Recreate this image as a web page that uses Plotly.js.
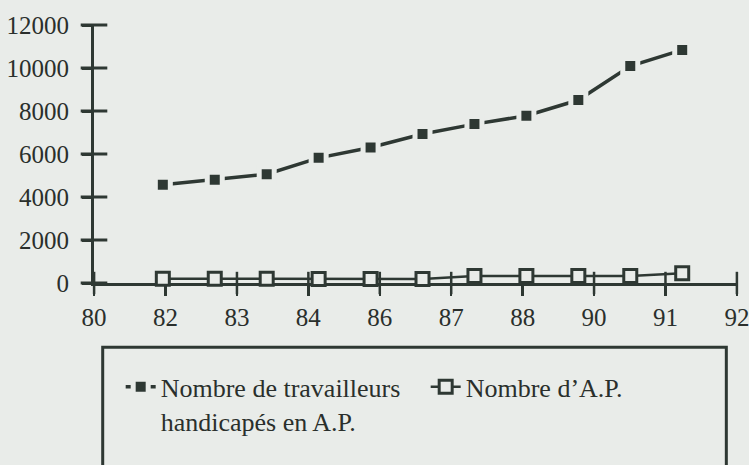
<!DOCTYPE html>
<html>
<head>
<meta charset="utf-8">
<script src="https://cdn.plot.ly/plotly-3.0.1.min.js"></script>
<style>
  html, body { margin: 0; padding: 0; background: #e9ece9; }
  #chart { width: 749px; height: 465px; }
</style>
</head>
<body>
<div id="chart"></div>
<script>
// ---- data ----
const xTickLabels = ['80', '82', '83', '84', '86', '87', '88', '90', '91', '92'];
const pointIndex = [0, 1, 2, 3, 4, 5, 6, 7, 8, 9, 10];
const travailleurs = [4570, 4800, 5060, 5820, 6300, 6930, 7390, 7780, 8510, 10090, 10840];
const nombreAP = [200, 200, 200, 190, 190, 190, 320, 330, 330, 330, 450];
const yTickVals = [0, 2000, 4000, 6000, 8000, 10000, 12000];
const yTickText = ['0', '2000', '4000', '6000', '8000', '10000', '12000'];
const seriesNames = ['Nombre de travailleurs<br>handicapés en A.P.', 'Nombre d\u2019A.P.'];

// ---- axis geometry (in point-index units) ----
const X_START = -1.323;
const X_STEP = 1.3751;
const xTickVals = xTickLabels.map((_, i) => X_START + i * X_STEP);
const EPS = 0.002;
const xRange = [xTickVals[0] - EPS, xTickVals[xTickVals.length - 1] + EPS];

const BG = '#e9ece9';
const INK = '#2e3833';
const TXT = '#2a2f2c';
const FONT = '"Liberation Serif", "Times New Roman", serif';

const traces = [
  // crossing tick marks (the part inside the plot), placed through the axes' scales
  {
    x: xTickVals, y: xTickVals.map(() => 0), type: 'scatter', mode: 'markers',
    cliponaxis: false, showlegend: false, hoverinfo: 'skip',
    marker: { symbol: 'line-ns', size: 16, line: { color: INK, width: 2.5 } }
  },
  {
    x: yTickVals.map(() => xRange[0]), y: yTickVals, type: 'scatter', mode: 'markers',
    cliponaxis: false, showlegend: false, hoverinfo: 'skip',
    marker: { symbol: 'line-ew', size: 19, line: { color: INK, width: 3 } }
  },
  {
    x: pointIndex, y: travailleurs, name: seriesNames[0],
    type: 'scatter', mode: 'lines+markers', cliponaxis: false,
    line: { color: INK, width: 3.5 },
    marker: { symbol: 'square', size: 15, color: INK, line: { color: BG, width: 5 } }
  },
  {
    x: pointIndex, y: nombreAP, name: seriesNames[1],
    type: 'scatter', mode: 'lines+markers', cliponaxis: false,
    line: { color: INK, width: 2.5 },
    marker: { symbol: 'square', size: 13, color: BG, line: { color: INK, width: 3 } }
  }
];

const layout = {
  width: 749, height: 465,
  paper_bgcolor: BG, plot_bgcolor: BG,
  margin: { l: 94, r: 12.3, t: 25, b: 182.3, pad: 0, autoexpand: false },
  showlegend: true,
  font: { family: FONT, color: TXT, size: 25 },
  xaxis: {
    range: xRange, tickmode: 'array', tickvals: xTickVals, ticktext: xTickLabels,
    showgrid: false, zeroline: false, showline: true, linecolor: INK, linewidth: 3,
    ticks: 'outside', ticklen: 10, tickwidth: 2.5, tickcolor: INK,
    ticklabeloverflow: 'allow',
    tickfont: { family: FONT, size: 25, color: TXT }, layer: 'below traces',
    fixedrange: true
  },
  yaxis: {
    range: [0, 12000], tickmode: 'array', tickvals: yTickVals, ticktext: yTickText,
    showgrid: false, zeroline: false, showline: true, linecolor: INK, linewidth: 3,
    ticks: 'outside', ticklen: 9, tickwidth: 3, tickcolor: INK,
    ticklabelstandoff: 8, ticklabeloverflow: 'allow',
    tickfont: { family: FONT, size: 25, color: TXT }, layer: 'below traces',
    fixedrange: true
  },
  legend: {
    orientation: 'h', x: 0.0415, xanchor: 'left', y: -0.3116, yanchor: 'top',
    bgcolor: 'rgba(0,0,0,0)', borderwidth: 0, valign: 'top',
    font: { family: FONT, size: 26, color: TXT },
    entrywidth: 260, entrywidthmode: 'pixels'
  },
  shapes: [
    {
      type: 'rect', xref: 'paper', yref: 'paper',
      x0: 0.01354, x1: 0.9834, y0: -0.2495, y1: -0.80,
      line: { color: INK, width: 3 }, fillcolor: 'rgba(0,0,0,0)', layer: 'below'
    }
  ]
};

Plotly.newPlot('chart', traces, layout, { displayModeBar: false, staticPlot: true });
</script>
</body>
</html>
